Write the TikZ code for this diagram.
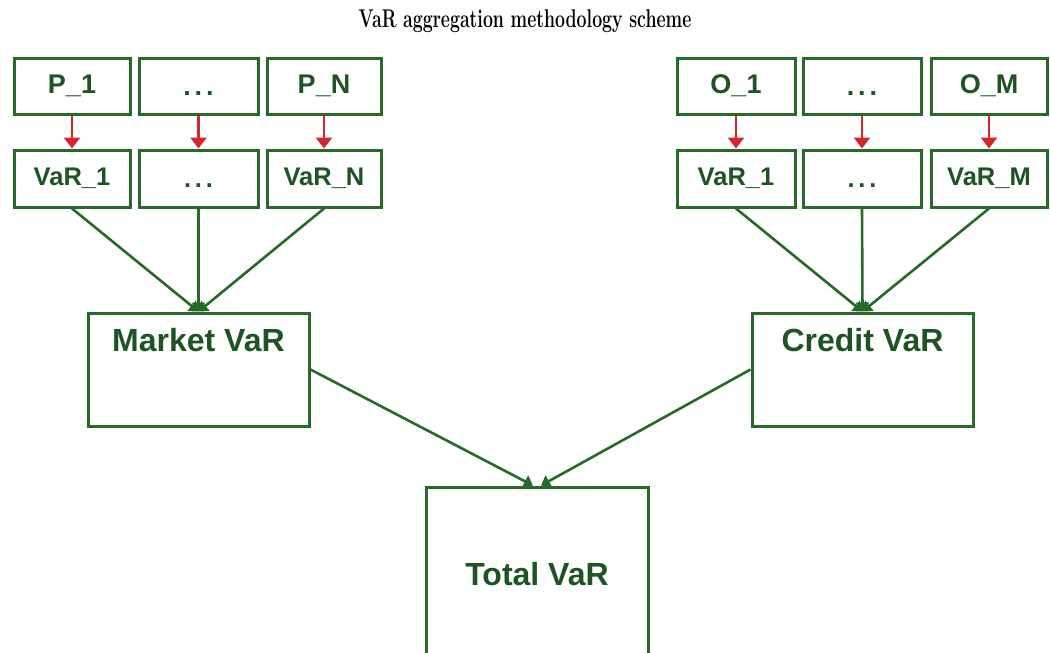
\documentclass[tikz,border=0pt]{standalone}
\usepackage{fontspec}
\newfontfamily\diagfont{Liberation Sans}
\usetikzlibrary{arrows.meta}
\definecolor{boxgreen}{RGB}{40,104,40}
\definecolor{txtgreen}{RGB}{30,84,36}
\definecolor{arrred}{RGB}{214,38,43}
\newcommand{\pdots}{\vphantom{P}.\hspace{3.8pt}.\hspace{3.8pt}.}
\begin{document}
\begin{tikzpicture}[x=1pt,y=-1pt,
  boxbase/.style={draw=boxgreen, line width=3pt, fill=white, inner sep=0pt, text=txtgreen},
  pbox/.style={boxbase, minimum height=56pt, font=\diagfont\bfseries\fontsize{27}{30}\selectfont},
  vbox/.style={boxbase, minimum height=57pt, font=\diagfont\bfseries\fontsize{25.5}{28}\selectfont},
  bigbox/.style={boxbase, minimum width=221pt, font=\diagfont\bfseries\fontsize{32}{36}\selectfont},
  bigtxt/.style={text=txtgreen, font=\diagfont\bfseries\fontsize{32}{36}\selectfont, inner sep=0pt},
  redarr/.style={draw=arrred, line width=2.4pt, -{Triangle[width=16pt,length=11pt]}},
  greenline/.style={draw=boxgreen, line width=2.6pt, -{Triangle[width=13pt,length=9pt]}},
  titlestyle/.style={font=\fontsize{17.7}{20}\selectfont\bfseries, inner sep=0pt}
]
\useasboundingbox (0,0) rectangle (1050,653);
\clip (0,0) rectangle (1050,653);

\node[titlestyle] (title) at (525,21) {\scalebox{1}[1.45]{\bfseries VaR aggregation methodology scheme}};

% left group
\node[pbox, minimum width=116pt] (p1) at (72,86) {P\_1};
\node[pbox, minimum width=119pt] (pd) at (198.5,86) {\pdots};
\node[pbox, minimum width=114pt] (pn) at (324,86) {P\_N};
\node[vbox, minimum width=116pt] (v1) at (72,178.5) {VaR\_1};
\node[vbox, minimum width=119pt] (vd) at (198.5,178.5) {\pdots};
\node[vbox, minimum width=114pt] (vn) at (324,178.5) {VaR\_N};

% right group
\node[pbox, minimum width=118pt] (o1) at (736,86) {O\_1};
\node[pbox, minimum width=118pt] (od) at (862,86) {\pdots};
\node[pbox, minimum width=116pt] (om) at (989,86) {O\_M};
\node[vbox, minimum width=118pt] (w1) at (736,178.5) {VaR\_1};
\node[vbox, minimum width=118pt] (wd) at (862,178.5) {\pdots};
\node[vbox, minimum width=116pt] (wm) at (989,178.5) {VaR\_M};

% aggregate boxes
\node[bigbox, minimum height=113pt, label={[bigtxt, anchor=center, yshift=-29pt]north:Market VaR}] (market) at (198.5,369.5) {};
\node[bigbox, minimum height=113pt, label={[bigtxt, anchor=center, yshift=-29pt]north:Credit VaR}] (credit) at (862.5,369.5) {};
\node[bigbox, minimum width=222pt, minimum height=175pt] (total) at (537,574.5) {Total VaR};

% red arrows
\foreach \a/\b in {p1/v1, pd/vd, pn/vn, o1/w1, od/wd, om/wm}
  \draw[redarr] (\a) -- (\b);

% green connectors
\draw[greenline] (v1.south) -- (market.north);
\draw[greenline] (vd.south) -- (market.north);
\draw[greenline] (vn.south) -- (market.north);
\draw[greenline] (w1.south) -- (credit.north);
\draw[greenline] (wd.south) -- (credit.north);
\draw[greenline] (wm.south) -- (credit.north);
\draw[greenline] (market.east) -- ([xshift=-4pt]total.north);
\draw[greenline] (credit.west) -- ([xshift=4pt]total.north);
\end{tikzpicture}
\end{document}
